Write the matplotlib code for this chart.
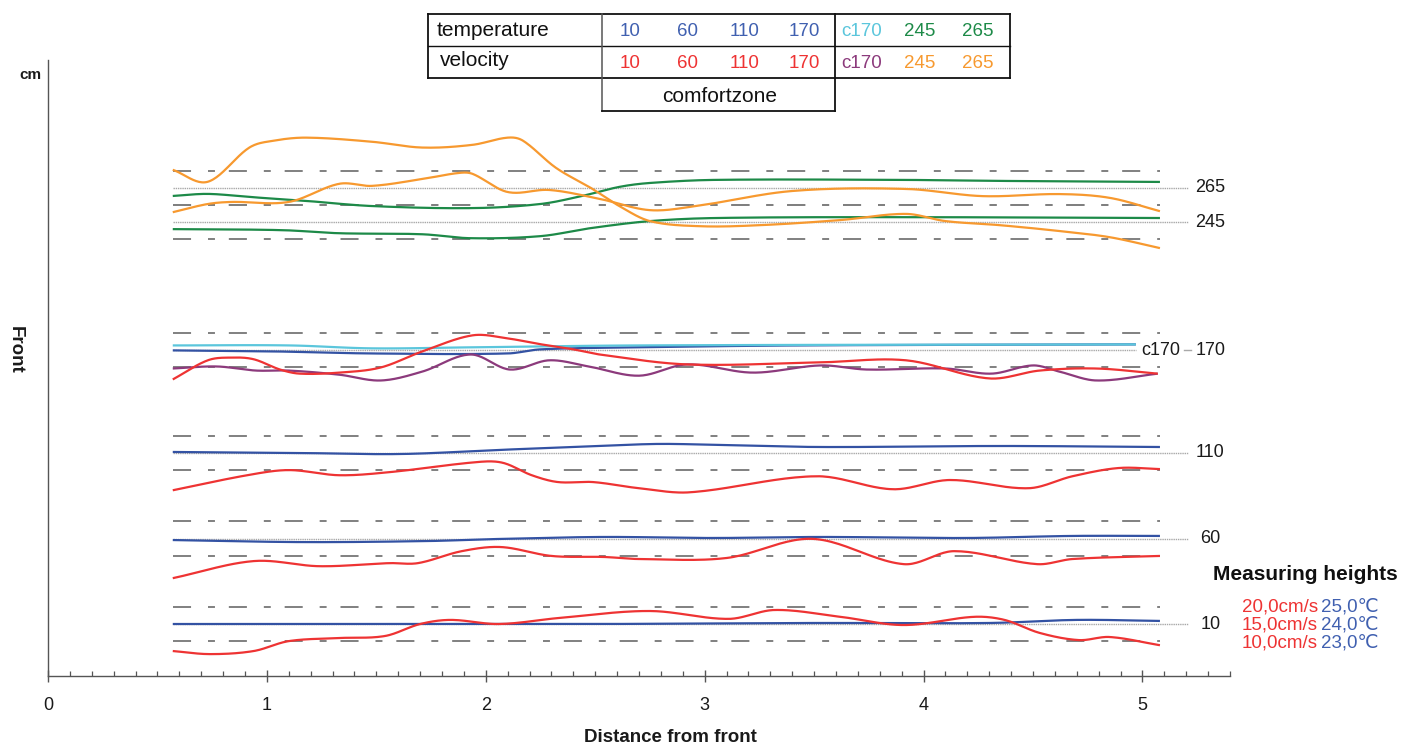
import numpy as np
import matplotlib
matplotlib.use('Agg')
import matplotlib.pyplot as plt
from matplotlib.lines import Line2D

plt.rcParams['font.family'] = ['Liberation Sans', 'DejaVu Sans']
plt.rcParams['lines.scale_dashes'] = False

# ---------------- data ----------------
heights = [10, 60, 110, 170, 245, 265]          # measuring heights, cm
height_labels = ['10', '60', '110', '170', '245', '265']
T_mid, T_band = 24.0, 1.0                         # comfort zone 23..25 degC
V_mid, V_band = 15.0, 5.0                         # comfort zone 10..20 cm/s
cm_per_degC = 10.0
cm_per_cms = 2.0
line_start, line_end = 0.57, 5.08

# temperature series (degC) vs distance from front
t265_x = [0.57, 0.73, 0.92, 1.18, 1.48, 1.94, 2.25, 2.44, 2.61, 2.75, 3.05, 3.89, 4.35, 5.08]
t265 = [23.53, 23.65, 23.47, 23.24, 22.94, 22.82, 23.06, 23.53, 24.06, 24.29, 24.47, 24.47, 24.41, 24.35]
t245_x = [0.57, 1.07, 1.33, 1.71, 1.93, 2.25, 2.48, 2.75, 3.05, 3.89, 5.08]
t245 = [23.59, 23.53, 23.35, 23.29, 23.06, 23.18, 23.65, 24.06, 24.24, 24.29, 24.24]
tc170_x = [0.57, 1.10, 1.48, 1.94, 2.70, 4.97]
tc170 = [24.29, 24.29, 24.12, 24.18, 24.29, 24.35]
t170_x = [0.57, 1.03, 1.48, 2.10, 2.25, 2.70, 3.43, 4.97]
t170 = [24.0, 23.94, 23.82, 23.82, 24.06, 24.18, 24.29, 24.35]
t110_x = [0.57, 1.15, 1.61, 2.06, 2.52, 2.79, 3.07, 3.53, 4.35, 5.08]
t110 = [24.06, 24.0, 23.94, 24.18, 24.41, 24.53, 24.47, 24.35, 24.41, 24.35]
t60_x = [0.57, 1.16, 1.73, 2.05, 2.54, 3.03, 3.54, 4.19, 4.68, 5.08]
t60 = [23.91, 23.79, 23.85, 23.97, 24.09, 24.03, 24.09, 24.03, 24.15, 24.15]
t10_x = [0.57, 1.5, 2.5, 3.5, 4.3, 4.7, 5.08]
t10 = [24.0, 24.0, 24.0, 24.06, 24.06, 24.24, 24.18]

# velocity series (cm/s)
v265_x = [0.57, 0.73, 0.84, 1.10, 1.33, 1.48, 1.71, 1.88, 1.94, 2.10, 2.29, 2.52, 2.75, 2.96, 3.40, 3.92, 4.27, 4.62, 4.85, 5.08]
v265 = [7.9, 10.3, 10.9, 10.9, 16.2, 15.6, 17.6, 19.4, 19.1, 13.8, 14.4, 11.8, 8.5, 9.7, 14.1, 14.7, 12.6, 13.2, 12.1, 8.2]
v245_x = [0.57, 0.73, 0.92, 1.03, 1.18, 1.48, 1.71, 1.94, 2.10, 2.17, 2.32, 2.48, 2.61, 2.75, 2.98, 3.25, 3.62, 3.92, 4.10, 4.35, 4.62, 4.85, 5.08]
v245 = [30.3, 26.8, 36.8, 38.8, 39.7, 38.5, 36.8, 37.6, 39.7, 38.8, 30.9, 25.0, 19.7, 15.3, 13.8, 14.1, 15.6, 17.4, 15.3, 14.1, 12.4, 10.6, 7.4]
vc170_x = [0.57, 0.77, 0.95, 1.10, 1.33, 1.52, 1.71, 1.93, 2.11, 2.29, 2.47, 2.70, 2.92, 3.22, 3.53, 3.74, 4.10, 4.31, 4.50, 4.62, 4.79, 5.07]
vc170 = [9.7, 10.3, 9.1, 9.1, 7.9, 6.2, 8.8, 13.8, 9.4, 12.1, 10.3, 7.6, 10.9, 8.5, 10.6, 9.4, 9.7, 8.2, 10.6, 8.8, 6.2, 8.2]
v170_x = [0.57, 0.73, 0.84, 0.94, 1.06, 1.15, 1.33, 1.52, 1.71, 1.94, 2.10, 2.25, 2.40, 2.52, 2.92, 3.53, 3.92, 4.30, 4.53, 4.79, 5.07]
v170 = [6.5, 12.1, 12.9, 12.4, 9.4, 8.2, 8.5, 10.0, 14.7, 19.4, 18.5, 16.8, 15.3, 13.8, 10.9, 11.5, 12.1, 6.8, 9.1, 9.7, 8.2]
v110_x = [0.57, 0.91, 1.10, 1.33, 1.56, 1.97, 2.08, 2.21, 2.33, 2.49, 2.70, 2.93, 3.51, 3.86, 4.12, 4.48, 4.68, 4.89, 5.08]
v110 = [4.1, 8.5, 10.0, 8.5, 9.4, 12.4, 12.1, 8.5, 6.5, 6.5, 4.7, 3.5, 8.2, 4.4, 7.1, 4.7, 8.2, 10.6, 10.3]
v60_x = [0.57, 0.94, 1.24, 1.56, 1.69, 1.89, 2.07, 2.30, 2.54, 2.70, 3.10, 3.49, 3.91, 4.14, 4.52, 4.68, 5.08]
v60 = [3.4, 8.4, 6.9, 7.8, 7.8, 11.3, 12.5, 9.9, 9.6, 9.0, 9.3, 14.9, 7.5, 11.3, 7.5, 9.0, 9.9]
v10_x = [0.57, 0.74, 0.94, 1.10, 1.33, 1.54, 1.70, 1.84, 2.06, 2.34, 2.75, 3.11, 3.32, 3.62, 3.91, 4.23, 4.37, 4.53, 4.71, 4.85, 5.08]
v10 = [7.1, 6.2, 7.1, 10.0, 10.9, 11.5, 15.0, 16.2, 15.0, 16.8, 18.8, 16.5, 19.1, 17.1, 14.7, 17.1, 16.2, 12.4, 10.3, 11.2, 8.8]

# table texts
table_cols = ['10', '60', '110', '170', 'c170', '245', '265']
legend_vel = ['20,0cm/s', '15,0cm/s', '10,0cm/s']
legend_temp = ['25,0\u2103', '24,0\u2103', '23,0\u2103']

# colours
C_BLUE = '#3352a3'
C_CYAN = '#5bc6dc'
C_GREEN = '#1d8a48'
C_RED = '#ee3333'
C_PURPLE = '#8c3a7c'
C_ORANGE = '#f7992f'
C_TBLUE = '#4060b0'
C_TEXT = '#1a1a1a'

# ---------------- helpers ----------------
def smooth(x, y, n=24):
    x = np.asarray(x, float); y = np.asarray(y, float)
    m = np.zeros_like(y)
    m[1:-1] = (y[2:] - y[:-2]) / (x[2:] - x[:-2])
    m[0] = (y[1] - y[0]) / (x[1] - x[0])
    m[-1] = (y[-1] - y[-2]) / (x[-1] - x[-2])
    xs, ys = [], []
    for i in range(len(x) - 1):
        h = x[i + 1] - x[i]
        t = np.linspace(0, 1, n, endpoint=False)
        h00 = 2 * t**3 - 3 * t**2 + 1
        h10 = t**3 - 2 * t**2 + t
        h01 = -2 * t**3 + 3 * t**2
        h11 = t**3 - t**2
        xs.append(x[i] + t * h)
        ys.append(h00 * y[i] + h10 * h * m[i] + h01 * y[i + 1] + h11 * h * m[i + 1])
    xs.append([x[-1]]); ys.append([y[-1]])
    return np.concatenate(xs), np.concatenate(ys)

def temp_cm(h, vals):
    return [h + (v - T_mid) * cm_per_degC for v in vals]

def vel_cm(h, vals):
    return [h + (v - V_mid) * cm_per_cms for v in vals]

# ---------------- figure ----------------
W, H = 1401, 747
fig = plt.figure(figsize=(W / 100, H / 100), dpi=100)

def fx(px):
    return px / W

def fy(py):
    return 1 - py / H

ax = fig.add_axes([fx(48), fy(676), fx(1230) - fx(48), fy(60) - fy(676)])
ax.set_xlim(0, 5.40)
ax.set_ylim(-20.4, 339.8)

for s in ['top', 'right']:
    ax.spines[s].set_visible(False)
for s in ['left', 'bottom']:
    ax.spines[s].set_color('#555555')
    ax.spines[s].set_linewidth(1.0)
ax.set_yticks([])
ax.set_xticks([0, 1, 2, 3, 4, 5])
ax.set_xticklabels(['0', '1', '2', '3', '4', '5'], fontsize=13, color=C_TEXT)
ax.set_xticks(np.arange(0, 5.41, 0.1), minor=True)
ax.tick_params(axis='x', which='major', direction='inout', length=8, width=1,
               color='#555555', pad=11)
ax.tick_params(axis='x', which='minor', direction='in', length=3.5, width=0.9,
               color='#555555')

# comfort-zone dashed lines and reference lines
dash = (0, (13, 12.2, 5, 10))
for h in heights:
    for off in (-1, 1):
        ax.plot([line_start, line_end], [h + off * T_band * cm_per_degC] * 2,
                color='#808080', lw=1.4, linestyle=dash, zorder=1)
for h, lab in zip(heights, height_labels):
    if h == 170:
        ax.plot([line_start, 4.97], [h, h], color='#a8a8a8', lw=1.0,
                linestyle=(0, (1, 0.6)), zorder=1)
        ax.plot([5.19, 5.22], [h, h], color='#a8a8a8', lw=1.0, zorder=1)
        ax.text(4.995, h, 'c170', fontsize=13, color=C_TEXT,
                ha='left', va='center')
    else:
        ax.plot([line_start, 5.21], [h, h], color='#a8a8a8', lw=1.0,
                linestyle=(0, (1, 0.6)), zorder=1)
    ax.text(5.31, h, lab, fontsize=13, color=C_TEXT, ha='center', va='center')

# series
series = [
    (t10_x, temp_cm(10, t10), C_BLUE),
    (t60_x, temp_cm(60, t60), C_BLUE),
    (t110_x, temp_cm(110, t110), C_BLUE),
    (t170_x, temp_cm(170, t170), C_BLUE),
    (tc170_x, temp_cm(170, tc170), C_CYAN),
    (t245_x, temp_cm(245, t245), C_GREEN),
    (t265_x, temp_cm(265, t265), C_GREEN),
    (v10_x, vel_cm(10, v10), C_RED),
    (v60_x, vel_cm(60, v60), C_RED),
    (v110_x, vel_cm(110, v110), C_RED),
    (vc170_x, vel_cm(170, vc170), C_PURPLE),
    (v170_x, vel_cm(170, v170), C_RED),
    (v245_x, vel_cm(245, v245), C_ORANGE),
    (v265_x, vel_cm(265, v265), C_ORANGE),
]
for xs, ys, c in series:
    sx, sy = smooth(xs, ys)
    ax.plot(sx, sy, color=c, lw=1.6, solid_capstyle='butt', zorder=3)

# axis texts
fig.text(fx(670), fy(738), 'Distance from front', fontsize=13.5, fontweight='bold',
         ha='center', va='center', color=C_TEXT)
fig.text(fx(15), fy(350), 'Front', fontsize=13.5, fontweight='bold', rotation=-90,
         ha='center', va='center', color=C_TEXT)
fig.text(fx(30), fy(75), 'cm', fontsize=11, fontweight='bold',
         ha='center', va='center', color=C_TEXT)

# legend for measuring heights
fig.text(fx(1305), fy(575), 'Measuring heights', fontsize=15, fontweight='bold',
         ha='center', va='center', color='#111111')
for i, (lv, lt) in enumerate(zip(legend_vel, legend_temp)):
    yy = fy(607 + 18 * i)
    fig.text(fx(1318), yy, lv, fontsize=13.5, color=C_RED, ha='right', va='center')
    fig.text(fx(1321), yy, lt, fontsize=13.5, color=C_TBLUE, ha='left', va='center')

# table at top
def fline(x0, y0, x1, y1, lw=1.3, color='#111111'):
    fig.add_artist(Line2D([fx(x0), fx(x1)], [fy(y0), fy(y1)], lw=lw, color=color,
                          transform=fig.transFigure))

fline(428, 14, 1010, 14)
fline(428, 78, 1010, 78)
fline(428, 14, 428, 78)
fline(1010, 14, 1010, 78)
fline(428, 46, 1010, 46, lw=1.0)
fline(602, 14, 602, 111, lw=1.1, color='#555555')
fline(835, 14, 835, 111)
fline(602, 111, 835, 111)

fig.text(fx(437), fy(30), 'temperature', fontsize=15, color='#111111', ha='left', va='center')
fig.text(fx(440), fy(61), 'velocity', fontsize=15, color='#111111', ha='left', va='center')
fig.text(fx(720), fy(97), 'comfortzone', fontsize=15, color='#111111', ha='center', va='center')
col_x = [630, 687, 745, 804, 862, 920, 978]
temp_cols = [C_TBLUE] * 4 + [C_CYAN, C_GREEN, C_GREEN]
vel_cols = [C_RED] * 4 + [C_PURPLE, C_ORANGE, C_ORANGE]
for cx, lab, ct, cv in zip(col_x, table_cols, temp_cols, vel_cols):
    fig.text(fx(cx), fy(31), lab, fontsize=13.5, color=ct, ha='center', va='center')
    fig.text(fx(cx), fy(63), lab, fontsize=13.5, color=cv, ha='center', va='center')

fig.savefig('out.png', dpi=100)
